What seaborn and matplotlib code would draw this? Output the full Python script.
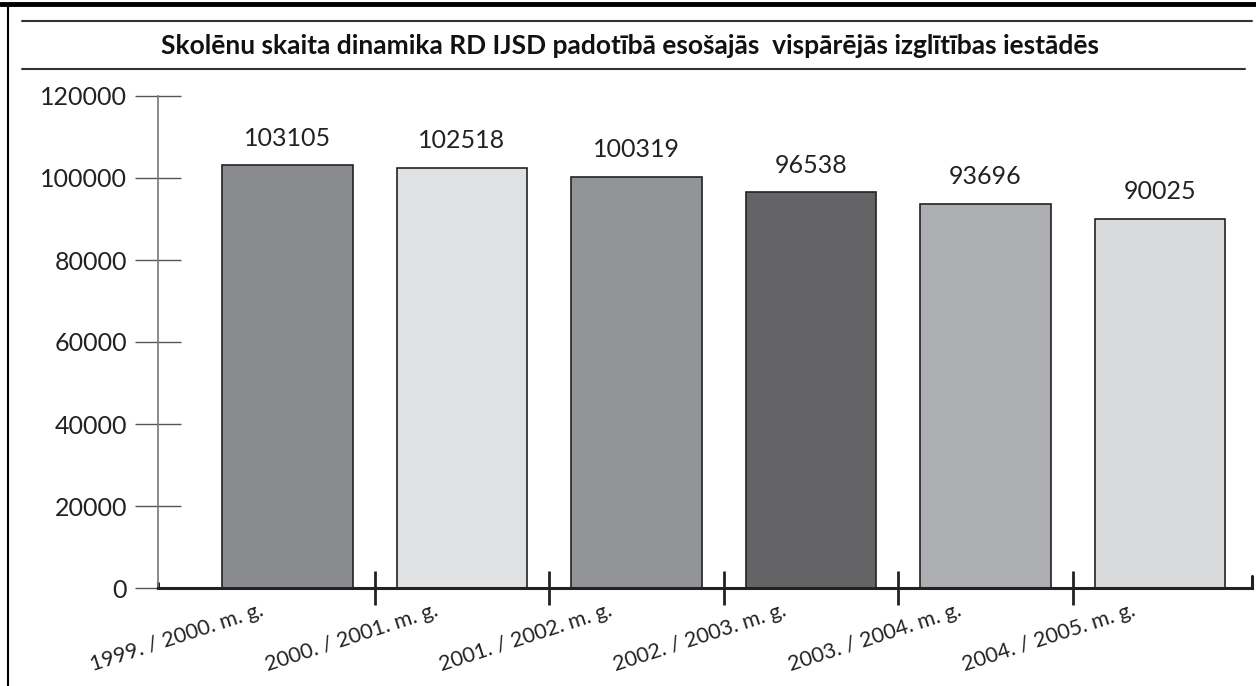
import matplotlib
matplotlib.use('Agg')
import matplotlib.pyplot as plt
import matplotlib.transforms as mtransforms
import seaborn as sns
import pandas as pd

# dati
gadi = ['1999. / 2000. m. g.', '2000. / 2001. m. g.', '2001. / 2002. m. g.',
        '2002. / 2003. m. g.', '2003. / 2004. m. g.', '2004. / 2005. m. g.']
skoleni = [103105, 102518, 100319, 96538, 93696, 90025]
krasas = ['#8a8b8e', '#e0e1e3', '#939497', '#646466', '#adaeb1', '#d9dadc']
y_ticks = [0, 20000, 40000, 60000, 80000, 100000, 120000]

df = pd.DataFrame({'gads': gadi, 'skoleni': skoleni})

sns.set_style('white')
plt.rcParams['font.family'] = ['Lato', 'DejaVu Sans']

fig = plt.figure(figsize=(12.56, 6.86), dpi=100)
ax = fig.add_axes([158 / 1256, 1 - 588 / 686, (1252 - 158) / 1256, (588 - 96) / 686])

sns.barplot(data=df, x='gads', y='skoleni', hue='gads', palette=krasas,
            legend=False, width=0.75, edgecolor='#222222', linewidth=1.2,
            saturation=1, ax=ax)

# vērtības virs stabiņiem
for i, v in enumerate(skoleni):
    ax.text(i, v + 3800, str(v), ha='center', va='bottom', fontsize=18, color='#222222')

ax.set_xlim(-0.742, 5.527)
ax.set_ylim(0, 120000)
ax.set_yticks(y_ticks)
ax.set_yticklabels([str(t) for t in y_ticks], fontsize=18, color='#222222')
ax.tick_params(axis='y', left=True, direction='inout', length=32.5, width=1, color='#555555', pad=6)
ax.set_xlabel('')
ax.set_ylabel('')

# kategoriju atdalītāji
ax.set_xticks([i + 0.5 for i in range(5)], minor=True)
ax.tick_params(axis='x', which='minor', bottom=True, direction='inout', length=25, width=2, color='#222222')
ax.set_xticks(range(len(gadi)))
ax.set_xticklabels(gadi, rotation=18, ha='right', rotation_mode='anchor', fontsize=15.5, color='#222222')
ax.tick_params(axis='x', which='major', length=0, pad=9)
offset = mtransforms.ScaledTranslation(-0.28, 0, fig.dpi_scale_trans)
for lbl in ax.get_xticklabels():
    lbl.set_transform(lbl.get_transform() + offset)

for s in ['top', 'right']:
    ax.spines[s].set_visible(False)
ax.spines['left'].set_color('#777777')
ax.spines['left'].set_linewidth(1.2)
ax.spines['bottom'].set_color('#222222')
ax.spines['bottom'].set_linewidth(2.2)
# mazie gala ķeksīši uz x ass
ax.plot([1, 1], [0, 0.025], transform=ax.transAxes, color='#222222', lw=2.2, clip_on=False)
ax.plot([0, 0], [0, 0.01], transform=ax.transAxes, color='#222222', lw=2.2, clip_on=False)

# rāmis un virsraksts
fig.add_artist(plt.Line2D([0, 1], [1 - 4 / 686] * 2, color='black', lw=3.5))
fig.add_artist(plt.Line2D([8 / 1256] * 2, [0, 1 - 4 / 686], color='black', lw=1.5))
fig.add_artist(plt.Line2D([22 / 1256, 1252 / 1256], [1 - 21 / 686] * 2, color='#333333', lw=1.5))
fig.add_artist(plt.Line2D([22 / 1256, 1245 / 1256], [1 - 69 / 686] * 2, color='#333333', lw=1.5))
fig.text(630 / 1256, 1 - 46 / 686,
         'Skolēnu skaita dinamika RD IJSD padotībā esošajās  vispārējās izglītības iestādēs',
         ha='center', va='center', fontsize=19, fontweight='bold', color='#111111')

plt.savefig('out.png', dpi=100)
